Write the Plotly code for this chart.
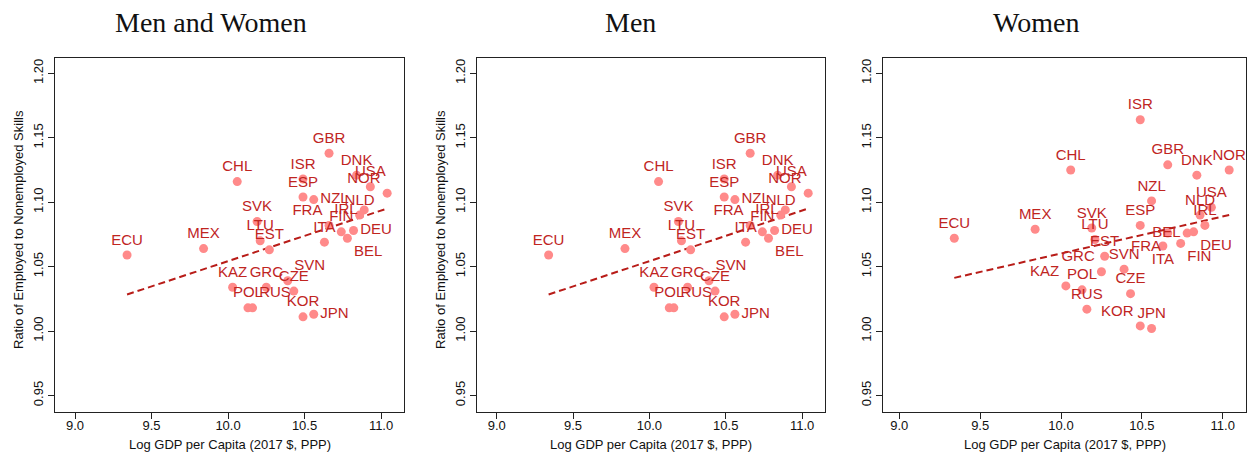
import numpy as np
import plotly.graph_objects as go

# Country codes (same order in every panel)
countries = ["ECU", "MEX", "CHL", "KAZ", "POL", "RUS", "SVK", "LTU", "GRC", "EST",
             "SVN", "CZE", "ESP", "ISR", "KOR", "NZL", "JPN", "ITA", "GBR", "FRA",
             "FIN", "BEL", "DEU", "DNK", "NLD", "IRL", "USA", "NOR"]

# Log GDP per capita (2017 $, PPP)
log_gdp = [9.34, 9.84, 10.06, 10.03, 10.13, 10.16, 10.19, 10.21, 10.25, 10.27,
           10.39, 10.43, 10.49, 10.49, 10.49, 10.56, 10.56, 10.63, 10.66, 10.66,
           10.74, 10.78, 10.82, 10.84, 10.86, 10.89, 10.93, 11.04]

# Ratio of employed to nonemployed skills
ratio_all = [1.059, 1.064, 1.116, 1.034, 1.018, 1.018, 1.085, 1.070, 1.034, 1.063,
             1.039, 1.031, 1.104, 1.118, 1.011, 1.102, 1.013, 1.069, 1.138, 1.082,
             1.077, 1.072, 1.078, 1.121, 1.090, 1.094, 1.112, 1.107]

ratio_men = [1.059, 1.064, 1.116, 1.034, 1.018, 1.018, 1.085, 1.070, 1.034, 1.063,
             1.039, 1.031, 1.104, 1.118, 1.011, 1.102, 1.013, 1.069, 1.138, 1.082,
             1.077, 1.072, 1.078, 1.121, 1.090, 1.094, 1.112, 1.107]

ratio_women = [1.072, 1.079, 1.125, 1.035, 1.032, 1.017, 1.080, 1.071, 1.046, 1.058,
               1.048, 1.029, 1.082, 1.164, 1.004, 1.101, 1.002, 1.066, 1.129, 1.076,
               1.068, 1.076, 1.077, 1.121, 1.090, 1.082, 1.096, 1.125]

panel_titles = ["Men and Women", "Men", "Women"]
x_ticks = [9.0, 9.5, 10.0, 10.5, 11.0]
y_ticks = [0.95, 1.00, 1.05, 1.10, 1.15, 1.20]
x_title = "Log GDP per Capita (2017 $, PPP)"
y_title = "Ratio of Employed to Nonemployed Skills"

# Label placement around each marker
pos_both = {c: "top center" for c in countries}
pos_both.update({"NOR": "top left", "IRL": "middle left", "DEU": "middle right",
                 "BEL": "bottom right", "FRA": "top left", "SVN": "top right",
                 "RUS": "top right", "JPN": "middle right", "NZL": "middle right"})
pos_women = {c: "top center" for c in countries}
pos_women.update({"DEU": "bottom right", "BEL": "middle left", "FIN": "bottom right",
                  "FRA": "bottom left", "ITA": "bottom center", "GRC": "top left",
                  "KAZ": "top left", "KOR": "top left"})

POINT = "#FF8A8A"
LABEL = "#C0251F"
LINE = "#B81C18"
W, H = 1248, 455

x_domains = [[55 / W, 404 / W], [476.7 / W, 825 / W], [883.3 / W, 1246 / W]]
x_ranges = [[8.869, 11.150], [8.869, 11.150], [8.901, 11.144]]
y_domain = [1 - 411.7 / H, 1 - 58 / H]
y_range = [0.9374, 1.2119]
title_x = [211 / W, 630 / W, 1036 / W]
ytitle_x = [18 / W, 440 / W, None]   # the last panel has no y-axis title

series = [ratio_all, ratio_men, ratio_women]
positions = [pos_both, pos_both, pos_women]

fig = go.Figure()
annotations = []
for i, ys in enumerate(series):
    ax = "" if i == 0 else str(i + 1)
    xa, ya = "x" + ax, "y" + ax
    xs = np.array(log_gdp)
    yv = np.array(ys)
    slope, icpt = np.polyfit(xs, yv, 1)
    xl = np.array([xs.min(), xs.max()])
    fig.add_trace(go.Scatter(x=xl, y=icpt + slope * xl, mode="lines",
                             line=dict(color=LINE, width=2, dash="7px,4px"),
                             xaxis=xa, yaxis=ya, showlegend=False, hoverinfo="skip"))
    fig.add_trace(go.Scatter(x=log_gdp, y=ys, mode="markers+text", text=countries,
                             textposition=[positions[i][c] for c in countries],
                             textfont=dict(family="Liberation Sans", size=15, color=LABEL),
                             marker=dict(color=POINT, size=9),
                             xaxis=xa, yaxis=ya, showlegend=False))
    common = dict(showline=True, linecolor="#222", linewidth=1, mirror=True,
                  ticks="outside", ticklen=6, tickcolor="#222", showgrid=False,
                  zeroline=False, tickfont=dict(family="Liberation Sans", size=13, color="#111"))
    fig.layout["xaxis" + ax] = dict(domain=x_domains[i], range=x_ranges[i], anchor=ya,
                                   tickvals=x_ticks, ticktext=[f"{v:.1f}" for v in x_ticks],
                                   ticklabelstandoff=-4, **common)
    fig.layout["yaxis" + ax] = dict(domain=y_domain, range=y_range, anchor=xa,
                                   tickvals=y_ticks, ticktext=[f"{v:.2f}" for v in y_ticks],
                                   tickangle=-90, **common)
    annotations.append(dict(text=panel_titles[i], x=title_x[i], y=1 - 22 / H,
                            xanchor="center", yanchor="middle",
                            xref="paper", yref="paper", showarrow=False,
                            font=dict(family="Liberation Serif", size=28, color="#111")))
    annotations.append(dict(text=x_title, x=sum(x_domains[i]) / 2, y=1 - 444 / H,
                            xanchor="center", yanchor="middle",
                            xref="paper", yref="paper", showarrow=False,
                            font=dict(family="Liberation Sans", size=13, color="#111")))
    if ytitle_x[i] is not None:
        annotations.append(dict(text=y_title, x=ytitle_x[i], y=1 - 230 / H, textangle=-90,
                                xanchor="center", yanchor="middle",
                                xref="paper", yref="paper", showarrow=False,
                                font=dict(family="Liberation Sans", size=13, color="#111")))

fig.update_layout(width=W, height=H, margin=dict(l=0, r=0, t=0, b=0),
                  plot_bgcolor="white", paper_bgcolor="white", annotations=annotations)
fig.write_html("out.html")
